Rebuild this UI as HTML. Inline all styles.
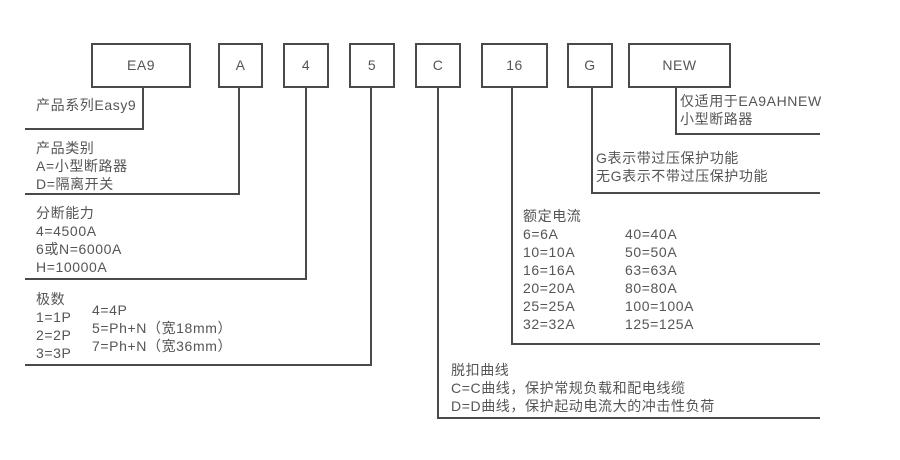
<!DOCTYPE html>
<html><head><meta charset="utf-8"><style>
body{margin:0;width:900px;height:460px;background:#fff;position:relative;overflow:hidden;font-family:"Liberation Sans","Noto Sans CJK SC",sans-serif;color:#555;}
.b{position:absolute;border:2px solid #4a4a4a;box-sizing:border-box;top:43px;height:45px;text-align:center;line-height:41px;font-size:14px;color:#555;letter-spacing:0.5px;}
.v{position:absolute;width:2px;background:#4a4a4a;}
.h{position:absolute;height:2px;background:#4a4a4a;}
.t{position:absolute;font-size:14px;line-height:18px;white-space:pre;letter-spacing:0.6px;}
</style></head><body>
<div class="b" style="left:91px;width:100px">EA9</div>
<div class="b" style="left:218px;width:45px">A</div>
<div class="b" style="left:283px;width:46px">4</div>
<div class="b" style="left:349px;width:46px">5</div>
<div class="b" style="left:415px;width:46px">C</div>
<div class="b" style="left:481px;width:67px">16</div>
<div class="b" style="left:567px;width:46px">G</div>
<div class="b" style="left:628px;width:103px">NEW</div>

<div class="v" style="left:142px;top:87px;height:43px"></div>
<div class="h" style="left:25px;top:128px;width:119px"></div>
<div class="v" style="left:238px;top:87px;height:108px"></div>
<div class="h" style="left:25px;top:193px;width:215px"></div>
<div class="v" style="left:305px;top:87px;height:193px"></div>
<div class="h" style="left:25px;top:278px;width:282px"></div>
<div class="v" style="left:370px;top:87px;height:279px"></div>
<div class="h" style="left:25px;top:364px;width:347px"></div>
<div class="v" style="left:437px;top:87px;height:332px"></div>
<div class="h" style="left:437px;top:417px;width:383px"></div>
<div class="v" style="left:511px;top:87px;height:258px"></div>
<div class="h" style="left:511px;top:343px;width:309px"></div>
<div class="v" style="left:591px;top:87px;height:107px"></div>
<div class="h" style="left:591px;top:192px;width:229px"></div>
<div class="v" style="left:675px;top:87px;height:48px"></div>
<div class="h" style="left:675px;top:133px;width:145px"></div>

<div class="t" style="left:36px;top:96px">产品系列Easy9</div>
<div class="t" style="left:36px;top:139px">产品类别
A=小型断路器
D=隔离开关</div>
<div class="t" style="left:36px;top:204px">分断能力
4=4500A
6或N=6000A
H=10000A</div>
<div class="t" style="left:36px;top:290px">极数
1=1P
2=2P
3=3P</div>
<div class="t" style="left:92px;top:301px">4=4P
5=Ph+N（宽18mm）
7=Ph+N（宽36mm）</div>
<div class="t" style="left:680px;top:92px">仅适用于EA9AHNEW
小型断路器</div>
<div class="t" style="left:596px;top:149px">G表示带过压保护功能
无G表示不带过压保护功能</div>
<div class="t" style="left:523px;top:207px">额定电流
6=6A
10=10A
16=16A
20=20A
25=25A
32=32A</div>
<div class="t" style="left:625px;top:225px">40=40A
50=50A
63=63A
80=80A
100=100A
125=125A</div>
<div class="t" style="left:451px;top:361px">脱扣曲线
C=C曲线，保护常规负载和配电线缆
D=D曲线，保护起动电流大的冲击性负荷</div>
</body></html>
